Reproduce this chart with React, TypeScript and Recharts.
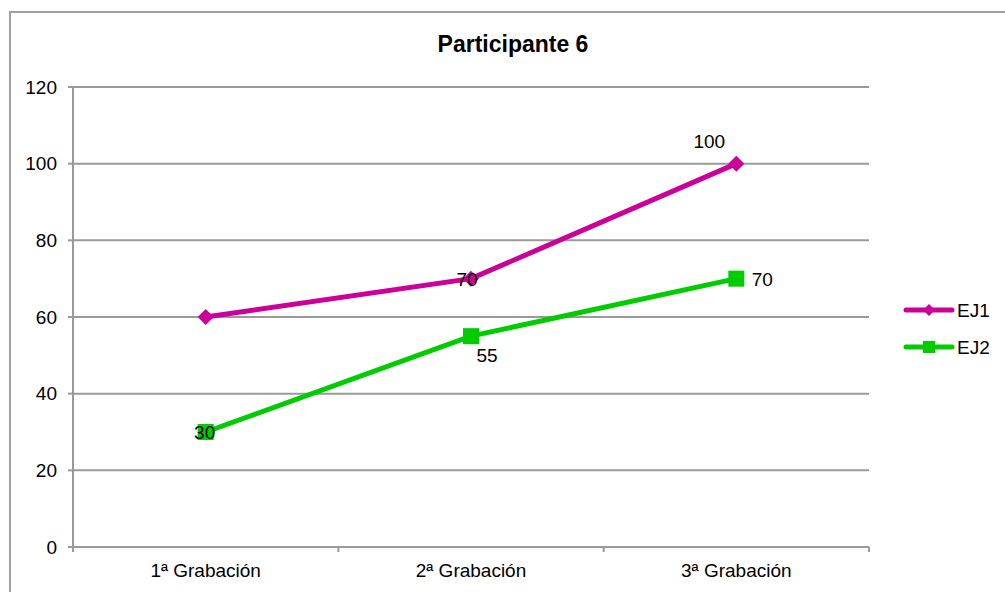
import React from 'react';
import { CartesianGrid, LabelList, Line, LineChart, XAxis, YAxis } from 'recharts';

const categories = ['1ª Grabación', '2ª Grabación', '3ª Grabación'];
const ej1 = [60, 70, 100];
const ej2 = [30, 55, 70];
const yTicks = [0, 20, 40, 60, 80, 100, 120];

const data = categories.map((label, i) => ({ label, EJ1: ej1[i], EJ2: ej2[i] }));

const W = 1005;
const H = 592;
const MARGIN = { top: 87, right: 136, left: 13, bottom: 15 };
const Y_AXIS_W = 60;
const PLOT_W = W - MARGIN.left - Y_AXIS_W - MARGIN.right;
const BAND = PLOT_W / categories.length;

const PINK = '#CC0099';
const GREEN = '#00CC00';
const GRID = '#9a9a9a';
const FONT = '"Liberation Sans", Arial, sans-serif';
const FS = 19;

// Label placement per point (dx, dy from the point); null hides it
const ej1Labels: ([number, number] | null)[] = [null, [-4, 0], [-27, -23]];
const ej2Labels: ([number, number] | null)[] = [[-1, 0], [16, 19], [26, 0]];

const Diamond = (props: any) => {
  const { cx, cy } = props;
  if (cx == null || cy == null) return null;
  const r = 8;
  return <polygon points={`${cx},${cy - r} ${cx + r},${cy} ${cx},${cy + r} ${cx - r},${cy}`} fill={PINK} />;
};

const Square = (props: any) => {
  const { cx, cy } = props;
  if (cx == null || cy == null) return null;
  const s = 16;
  return <rect x={cx - s / 2} y={cy - s / 2} width={s} height={s} fill={GREEN} />;
};

const makeLabel = (offsets: ([number, number] | null)[]) => (props: any) => {
  const { x, y, value, index } = props;
  const off = offsets[index];
  if (!off) return null;
  return (
    <text x={x + off[0]} y={y + off[1]} dy={7} textAnchor="middle" fontSize={FS} fontFamily={FONT} fill="#000">
      {value}
    </text>
  );
};

// Category labels with tick marks on the band boundaries
const CategoryTick = (props: any) => {
  const { x, payload, index } = props;
  const axisY = H - MARGIN.bottom - 30;
  return (
    <g>
      <line x1={x - BAND / 2} x2={x - BAND / 2} y1={axisY} y2={axisY + 5} stroke={GRID} strokeWidth={2} />
      {index === categories.length - 1 && (
        <line x1={x + BAND / 2} x2={x + BAND / 2} y1={axisY} y2={axisY + 5} stroke={GRID} strokeWidth={2} />
      )}
      <text x={x} y={axisY + 30} textAnchor="middle" fontSize={FS} fontFamily={FONT} fill="#000">
        {payload.value}
      </text>
    </g>
  );
};

const LegendBox = () => (
  <svg width={100} height={60} style={{ position: 'absolute', left: 900, top: 298 }}>
    <line x1={6} x2={52} y1={12} y2={12} stroke={PINK} strokeWidth={5} strokeLinecap="round" />
    <polygon points="29,6 35,12 29,18 23,12" fill={PINK} />
    <text x={57} y={19} fontSize={FS} fontFamily={FONT} fill="#000">EJ1</text>
    <line x1={6} x2={52} y1={49} y2={49} stroke={GREEN} strokeWidth={5} strokeLinecap="round" />
    <rect x={23} y={43} width={12} height={12} fill={GREEN} />
    <text x={57} y={56} fontSize={FS} fontFamily={FONT} fill="#000">EJ2</text>
  </svg>
);

const App: React.FC = () => {
  return (
    <div style={{ position: 'fixed', left: 0, top: 0, width: W, height: H, background: '#fff', overflow: 'hidden' }}>
      <div
        style={{
          position: 'absolute',
          left: 9,
          top: 11,
          width: W,
          height: H,
          border: '2px solid #a0a0a0',
          boxSizing: 'border-box',
        }}
      />
      <div
        style={{
          position: 'absolute',
          left: 0,
          width: 1026,
          top: 31,
          textAlign: 'center',
          fontFamily: FONT,
          fontWeight: 'bold',
          fontSize: 23,
          color: '#000',
        }}
      >
        Participante 6
      </div>
      <div style={{ position: 'absolute', left: 0, top: 0 }}>
        <LineChart width={W} height={H} data={data} margin={MARGIN}>
          <CartesianGrid vertical={false} stroke={GRID} strokeWidth={2} />
          <XAxis
            dataKey="label"
            tickLine={false}
            stroke={GRID}
            strokeWidth={2}
            tick={<CategoryTick />}
            height={30}
            padding={{ left: BAND / 2, right: BAND / 2 }}
          />
          <YAxis
            domain={[0, 120]}
            ticks={yTicks}
            width={Y_AXIS_W}
            stroke={GRID}
            strokeWidth={2}
            tickSize={5}
            tickMargin={11}
            tick={{ fill: '#000', fontSize: FS, fontFamily: FONT }}
          />
          <Line
            dataKey="EJ1"
            stroke={PINK}
            strokeWidth={5}
            dot={<Diamond />}
            activeDot={false}
            isAnimationActive={false}
          >
            <LabelList dataKey="EJ1" content={makeLabel(ej1Labels)} />
          </Line>
          <Line
            dataKey="EJ2"
            stroke={GREEN}
            strokeWidth={5}
            dot={<Square />}
            activeDot={false}
            isAnimationActive={false}
          >
            <LabelList dataKey="EJ2" content={makeLabel(ej2Labels)} />
          </Line>
        </LineChart>
      </div>
      <LegendBox />
    </div>
  );
};

export default App;
